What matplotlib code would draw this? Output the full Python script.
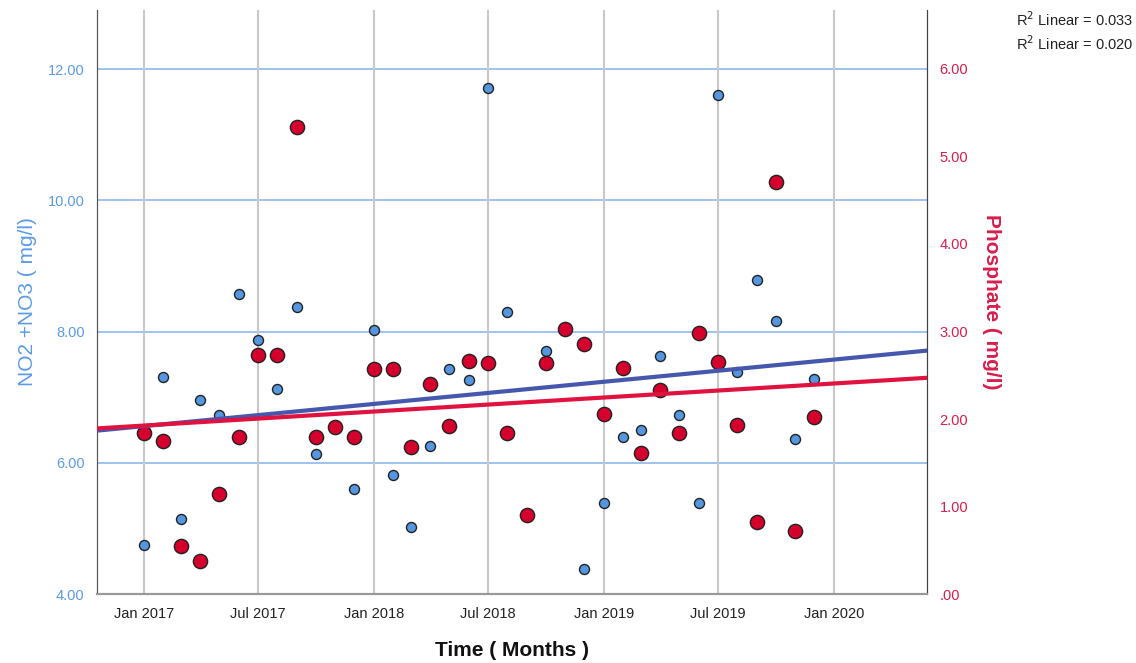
import numpy as np
import pandas as pd
import matplotlib
matplotlib.use("Agg")
import matplotlib.pyplot as plt
import matplotlib.dates as mdates

plt.rcParams["font.family"] = ["Liberation Sans", "DejaVu Sans"]

# monthly samples, Jan 2017 - Dec 2019
months = pd.date_range("2017-01-01", periods=36, freq="MS")

# NO2 + NO3 (mg/l), left axis
nitrate = [4.75, 7.31, 5.14, 6.96, 6.73, 8.57, 7.87, 7.12, 8.37, 6.13, 6.55, 5.60,
           8.02, 5.81, 5.02, 6.26, 7.43, 7.26, 11.71, 8.30, 5.20, 7.70, 8.04, 4.38,
           5.39, 6.39, 6.50, 7.63, 6.73, 5.39, 11.60, 7.38, 8.78, 8.16, 6.36, 7.28]

# Phosphate (mg/l), right axis
phosphate = [1.84, 1.75, 0.55, 0.38, 1.14, 1.79, 2.73, 2.73, 5.34, 1.79, 1.91, 1.79,
             2.57, 2.57, 1.68, 2.40, 1.92, 2.66, 2.64, 1.84, 0.90, 2.64, 3.03, 2.86,
             2.06, 2.58, 1.61, 2.33, 1.84, 2.98, 2.65, 1.93, 0.82, 4.71, 0.72, 2.02]

r2_labels = ["R$^2$ Linear = 0.033", "R$^2$ Linear = 0.020"]
xtick_dates = pd.date_range("2017-01-01", "2020-01-01", freq="6MS")

blue = "#5596E0"
blue_line = "#4657AE"
blue_text = "#5B9BE6"
red = "#D5002B"
red_line = "#E0123F"
red_text = "#D81E4C"

LEFT_LIM = (4, 12.9)
RIGHT_LIM = (0, 6.674)

fig = plt.figure(figsize=(11.36, 6.63), dpi=100)
ax = fig.add_axes([0.0854, 0.104, 0.7306, 0.881])
ax2 = ax.twinx()

x = mdates.date2num(months)
xmin = mdates.date2num(pd.Timestamp("2016-10-19"))
xmax = mdates.date2num(pd.Timestamp("2020-05-28"))

ax.scatter(x, nitrate, s=52, color=blue, edgecolor="#222222", linewidth=1.0, zorder=3)
ax2.scatter(x, phosphate, s=105, color=red, edgecolor="#222222", linewidth=1.0, zorder=3)

# linear fits over the full x range (blue fit mapped onto right-axis units so
# both lines sit above the points)
xx = np.array([xmin, xmax])
b1 = np.polyfit(x, nitrate, 1)
b2 = np.polyfit(x, phosphate, 1)
scale = (RIGHT_LIM[1] - RIGHT_LIM[0]) / (LEFT_LIM[1] - LEFT_LIM[0])
ax2.plot(xx, (np.polyval(b1, xx) - LEFT_LIM[0]) * scale, color=blue_line, lw=3, zorder=4)
ax2.plot(xx, np.polyval(b2, xx), color=red_line, lw=3, zorder=4)

ax.set_xlim(xmin, xmax)
ax.set_ylim(*LEFT_LIM)
ax2.set_ylim(*RIGHT_LIM)

ax.set_xticks(mdates.date2num(xtick_dates))
ax.set_xticklabels([d.strftime("%b %Y") for d in xtick_dates], fontsize=10.5, color="#222222")
ax.set_yticks([4, 6, 8, 10, 12])
ax.set_yticklabels([f"{v:.2f}" for v in [4, 6, 8, 10, 12]], fontsize=10.5, color=blue_text)
ax2.set_yticks([0, 1, 2, 3, 4, 5, 6])
ax2.set_yticklabels([".00"] + [f"{v:.2f}" for v in range(1, 7)], fontsize=10.5, color=red_text)

ax.tick_params(axis="x", length=0, pad=9)
ax.tick_params(axis="y", length=0, pad=9)
ax2.tick_params(axis="y", length=0, pad=9)

ax.grid(axis="x", color="#C8C8C8", lw=1.5, zorder=0)
for v in [6, 8, 10, 12]:
    ax.axhline(v, color="#8DB8EC", lw=1.2, zorder=0)

for a in (ax, ax2):
    a.spines["top"].set_visible(False)
    a.spines["left"].set_color("#555555")
    a.spines["right"].set_color("#444444")
    a.spines["bottom"].set_color("#999999")
    a.spines["bottom"].set_linewidth(1.5)

ax.set_xlabel("Time ( Months )", fontsize=15, fontweight="bold", color="#111111", labelpad=15)
ax.set_ylabel("NO2 +NO3 ( mg/l)", fontsize=15, color=blue_text, labelpad=8)
ax2.set_ylabel("Phosphate ( mg/l)", fontsize=15, fontweight="bold", color=red_text,
               rotation=-90, labelpad=24)

fig.text(0.894, 0.970, r2_labels[0], fontsize=10.5, color="#222222", va="center")
fig.text(0.894, 0.934, r2_labels[1], fontsize=10.5, color="#222222", va="center")

fig.savefig("out.png", dpi=100)
